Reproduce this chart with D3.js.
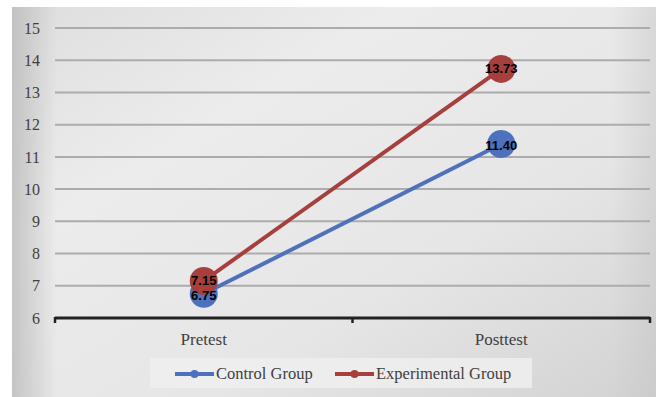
<!DOCTYPE html>
<html>
<head>
<meta charset="utf-8">
<script src="https://cdn.jsdelivr.net/npm/d3@7"></script>
<style>
  html, body { margin: 0; padding: 0; background: #ffffff; }
  svg { display: block; }
</style>
</head>
<body>
<svg id="chart" width="656" height="397"></svg>
<script>
// Test phases on the x axis
const categories = ["Pretest", "Posttest"];
// Mean scores for each group
const controlValues = [6.75, 11.40];
const experimentalValues = [7.15, 13.73];
const seriesNames = ["Control Group", "Experimental Group"];
const yTicks = [6, 7, 8, 9, 10, 11, 12, 13, 14, 15];

const colors = { control: "#4e71bd", experimental: "#a73f3c" };

const svg = d3.select("#chart");
const W = 656, H = 397;

// Panel background with soft gray gradient
const defs = svg.append("defs");
const grad = defs.append("linearGradient")
  .attr("id", "bg").attr("x1", "0%").attr("y1", "0%").attr("x2", "100%").attr("y2", "100%");
grad.append("stop").attr("offset", "0%").attr("stop-color", "#dedede");
grad.append("stop").attr("offset", "30%").attr("stop-color", "#ececec");
grad.append("stop").attr("offset", "65%").attr("stop-color", "#e6e6e6");
grad.append("stop").attr("offset", "100%").attr("stop-color", "#d2d2d2");
const gradH = defs.append("linearGradient")
  .attr("id", "bgH").attr("x1", "0%").attr("y1", "0%").attr("x2", "100%").attr("y2", "0%");
gradH.append("stop").attr("offset", "0%").attr("stop-color", "#b8b8b8").attr("stop-opacity", 0.75);
gradH.append("stop").attr("offset", "7%").attr("stop-color", "#b8b8b8").attr("stop-opacity", 0);
gradH.append("stop").attr("offset", "93%").attr("stop-color", "#c4c4c4").attr("stop-opacity", 0);
gradH.append("stop").attr("offset", "100%").attr("stop-color", "#c4c4c4").attr("stop-opacity", 0.45);

svg.append("rect").attr("x", 12).attr("y", 7).attr("width", W - 12).attr("height", H - 7)
  .attr("fill", "url(#bg)");
svg.append("rect").attr("x", 12).attr("y", 7).attr("width", W - 12).attr("height", H - 7)
  .attr("fill", "url(#bgH)");

const plot = { left: 55, right: 650, top: 28, bottom: 318 };

const x = d3.scaleBand().domain(categories).range([plot.left, plot.right]);
const y = d3.scaleLinear().domain([6, 15]).range([plot.bottom, plot.top]);

// Horizontal gridlines
svg.append("g").selectAll("line")
  .data(yTicks.filter(t => t !== 6))
  .join("line")
  .attr("x1", plot.left).attr("x2", plot.right)
  .attr("y1", d => y(d)).attr("y2", d => y(d))
  .attr("stroke", "#acacac").attr("stroke-width", 2);

// Y axis labels
const yAxis = d3.axisLeft(y).tickValues(yTicks).tickSize(0).tickPadding(0);
const gy = svg.append("g").attr("transform", `translate(40,0)`).call(yAxis);
gy.select(".domain").remove();
gy.selectAll("text")
  .attr("font-family", "'Liberation Serif', 'Times New Roman', serif")
  .attr("font-size", 16).attr("fill", "#404040");

// X axis with category boundary ticks
const gx = svg.append("g").attr("transform", `translate(0,${plot.bottom})`);
gx.append("line").attr("x1", plot.left).attr("x2", plot.right)
  .attr("stroke", "#222").attr("stroke-width", 3);
const bounds = [plot.left, ...categories.slice(1).map(c => x(c)), plot.right];
gx.selectAll("line.tick").data(bounds).join("line").attr("class", "tick")
  .attr("x1", d => d).attr("x2", d => d).attr("y1", -1).attr("y2", 5)
  .attr("stroke", "#222").attr("stroke-width", 2.5);
gx.selectAll("text").data(categories).join("text")
  .attr("x", d => x(d) + x.bandwidth() / 2).attr("y", 27)
  .attr("text-anchor", "middle")
  .attr("font-family", "'Liberation Serif', 'Times New Roman', serif")
  .attr("font-size", 17).attr("fill", "#404040")
  .text(d => d);

const series = [
  { name: seriesNames[0], values: controlValues, color: colors.control, dy: 6 },
  { name: seriesNames[1], values: experimentalValues, color: colors.experimental, dy: 4 }
];

const cx = c => x(c) + x.bandwidth() / 2;
const line = d3.line().x((d, i) => cx(categories[i])).y(d => y(d));

// Lines
series.forEach(s => {
  svg.append("path").datum(s.values)
    .attr("d", line).attr("fill", "none")
    .attr("stroke", s.color).attr("stroke-width", 4);
});
// Markers
series.forEach(s => {
  svg.append("g").selectAll("circle").data(s.values).join("circle")
    .attr("cx", (d, i) => cx(categories[i])).attr("cy", d => y(d))
    .attr("r", 14).attr("fill", s.color);
});
// Value labels
series.forEach(s => {
  svg.append("g").selectAll("text").data(s.values).join("text")
    .attr("x", (d, i) => cx(categories[i])).attr("y", d => y(d) + s.dy)
    .attr("text-anchor", "middle")
    .attr("font-family", "'Liberation Sans', Arial, sans-serif")
    .attr("font-weight", "bold").attr("font-size", 13).attr("fill", "#000")
    .text(d => d.toFixed(2));
});

// Legend
const lg = svg.append("g");
lg.append("rect").attr("x", 150).attr("y", 358).attr("width", 382).attr("height", 30)
  .attr("fill", "#efefef").attr("opacity", 0.85);
const legendItems = [
  { s: series[0], x: 175 },
  { s: series[1], x: 335 }
];
legendItems.forEach(it => {
  lg.append("line").attr("x1", it.x).attr("x2", it.x + 39).attr("y1", 374).attr("y2", 374)
    .attr("stroke", it.s.color).attr("stroke-width", 4);
  lg.append("circle").attr("cx", it.x + 19.5).attr("cy", 374).attr("r", 4).attr("fill", it.s.color);
  lg.append("text").attr("x", it.x + 41).attr("y", 379)
    .attr("font-family", "'Liberation Serif', 'Times New Roman', serif")
    .attr("font-size", 16.5).attr("fill", "#404040")
    .text(it.s.name);
});
</script>
</body>
</html>
